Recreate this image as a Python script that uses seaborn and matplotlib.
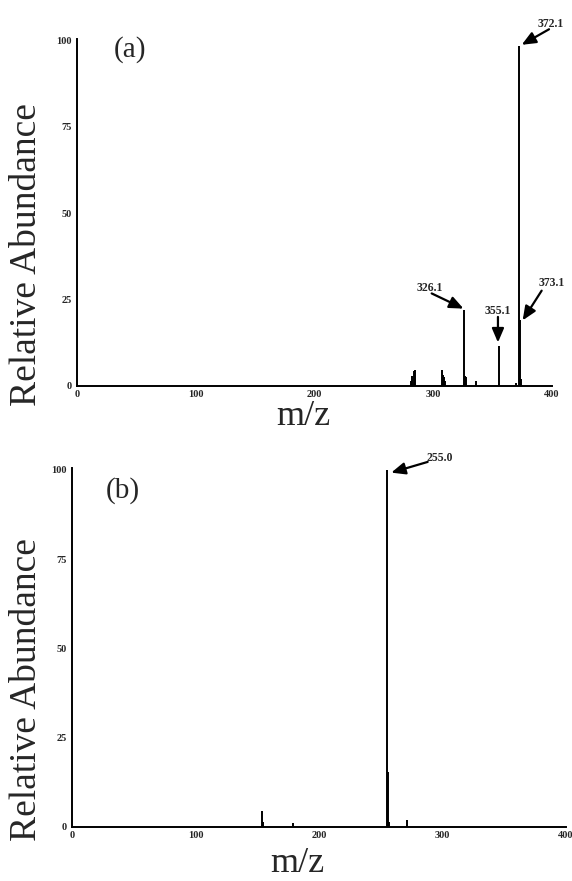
import matplotlib
matplotlib.use("Agg")
import matplotlib.pyplot as plt
import seaborn as sns
import pandas as pd

# ---- data ----
mz_a = [281, 282, 284, 285, 307, 308, 309, 310, 326, 327, 328, 336, 355, 370, 372, 373, 374]
ab_a = [1.5, 2.8, 4.3, 4.5, 4.5, 3.2, 2.5, 1.5, 21.9, 3.0, 2.5, 1.3, 11.5, 1.0, 98.5, 19.0, 2.0]

mz_b = [154, 155, 179, 255, 256, 257, 271]
ab_b = [4.4, 1.5, 1.1, 100.0, 15.5, 1.5, 1.9]

labels_a = ["372.1", "373.1", "326.1", "355.1"]
labels_b = ["255.0"]
ticks_x = [0, 100, 200, 300, 400]
ticks_y = [0, 25, 50, 75, 100]

sns.set_theme(style="white")
plt.rcParams['font.family'] = ['Liberation Serif', 'DejaVu Serif']

fig = plt.figure(figsize=(5.72, 8.81), dpi=100)
ax_a = fig.add_axes([0.1346, 0.5619, 0.8304, 0.3939])
ax_b = fig.add_axes([0.1259, 0.0613, 0.8636, 0.4075])

df_a = pd.DataFrame({"mz": mz_a, "ab": ab_a})
df_b = pd.DataFrame({"mz": mz_b, "ab": ab_b})


def style(ax):
    ax.set_xlim(0, 400)
    ax.set_ylim(0, 100.5)
    ax.set_xticks(ticks_x)
    ax.set_yticks(ticks_y)
    ax.set_xticklabels([str(t) for t in ticks_x], fontsize=7.5, fontweight='bold')
    ax.set_yticklabels([str(t) for t in ticks_y], fontsize=7.5, fontweight='bold')
    ax.tick_params(axis='x', length=0, pad=3)
    ax.tick_params(axis='y', length=0, pad=4)
    sns.despine(ax=ax)
    for s in ['left', 'bottom']:
        ax.spines[s].set_color('black')
        ax.spines[s].set_linewidth(1.4)
    ax.set_xlabel("")
    ax.set_ylabel("")


for ax, df in [(ax_a, df_a), (ax_b, df_b)]:
    ax.vlines(df["mz"], 0, df["ab"], color="black", linewidth=1.4)
    style(ax)

ap = dict(arrowstyle='-|>,head_length=0.7,head_width=0.3', color='black', lw=1.6,
          shrinkA=0, shrinkB=0)
lab_kw = dict(fontsize=8.5, fontweight='bold', ha='center', va='center')

# panel (a) annotations
ax_a.text(399.2, 104.9, labels_a[0], clip_on=False, **lab_kw)
ax_a.annotate("", xy=(374.5, 98.8), xytext=(397.5, 103.3), arrowprops=ap, annotation_clip=False)
ax_a.text(400.0, 29.7, labels_a[1], clip_on=False, **lab_kw)
ax_a.annotate("", xy=(375.3, 19.0), xytext=(391.3, 27.6), arrowprops=ap)
ax_a.text(297.3, 28.5, labels_a[2], **lab_kw)
ax_a.annotate("", xy=(325.5, 22.4), xytext=(298.7, 26.8), arrowprops=ap)
ax_a.text(354.1, 21.6, labels_a[3], **lab_kw)
ax_a.annotate("", xy=(354.5, 12.6), xytext=(354.5, 20.0), arrowprops=ap)
ax_a.text(44.6, 97.4, "(a)", fontsize=21, ha='center', va='center')

# panel (b) annotations
ax_b.text(298.0, 103.2, labels_b[0], clip_on=False, **lab_kw)
ax_b.annotate("", xy=(258.5, 99.2), xytext=(288.0, 102.2), arrowprops=ap, annotation_clip=False)
ax_b.text(41.4, 94.1, "(b)", fontsize=21, ha='center', va='center')

# axis titles
fig.text(27 / 572, 1 - 255 / 881, "Relative Abundance", rotation=90, fontsize=27,
         ha='center', va='center')
fig.text(27 / 572, 1 - 690 / 881, "Relative Abundance", rotation=90, fontsize=27,
         ha='center', va='center')
fig.text(303 / 572, 1 - 400 / 881, "m/z", fontsize=26, ha='center', va='top')
fig.text(297 / 572, 1 - 864 / 881, "m/z", fontsize=26, ha='center', va='center')

fig.savefig("out.png", dpi=100)
